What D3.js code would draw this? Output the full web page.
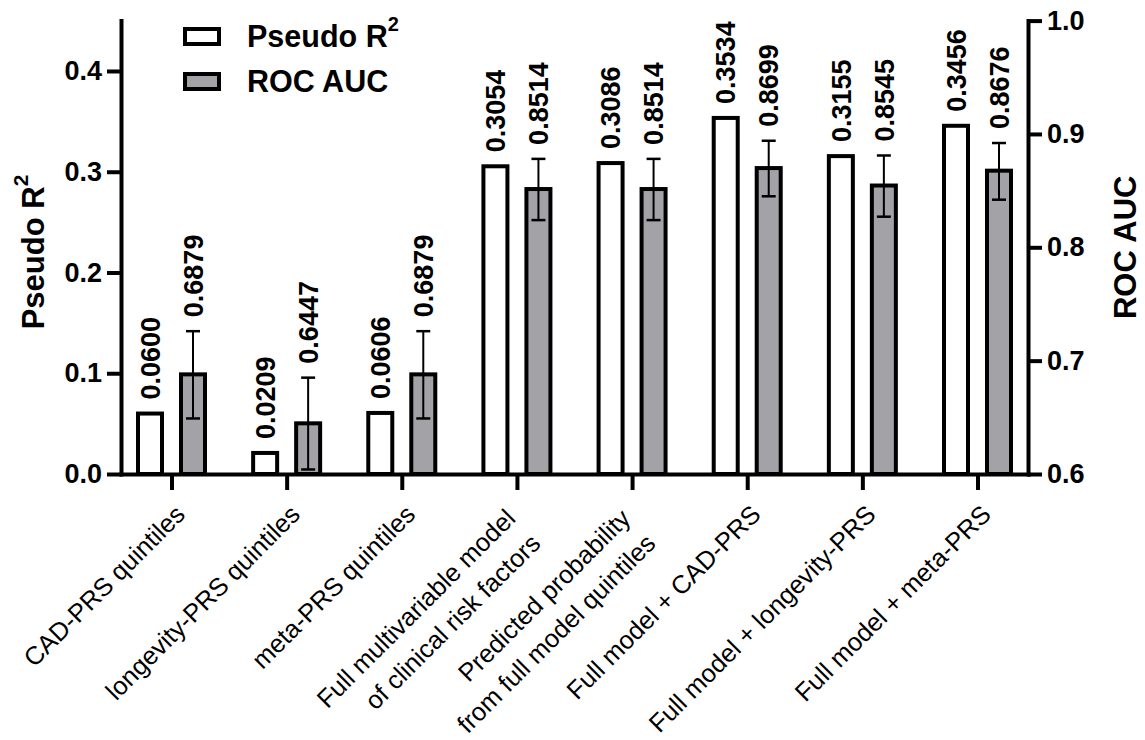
<!DOCTYPE html>
<html>
<head>
<meta charset="utf-8">
<script src="https://cdn.jsdelivr.net/npm/d3@7"></script>
<style>
  html, body { margin: 0; padding: 0; background: #fff; }
  svg { display: block; }
  text { font-family: "Liberation Sans", Arial, Helvetica, sans-serif; fill: #000; }
</style>
</head>
<body>
<svg id="chart" width="1145" height="740"></svg>
<script>
// ---------------- data ----------------
const categories = [
  "CAD-PRS quintiles",
  "longevity-PRS quintiles",
  "meta-PRS quintiles",
  "Full multivariable model of clinical risk factors",
  "Predicted probability from full model quintiles",
  "Full model + CAD-PRS",
  "Full model + longevity-PRS",
  "Full model + meta-PRS"
];
const categoryLines = [
  ["CAD-PRS quintiles"],
  ["longevity-PRS quintiles"],
  ["meta-PRS quintiles"],
  ["Full multivariable model", "of clinical risk factors"],
  ["Predicted probability", "from full model quintiles"],
  ["Full model + CAD-PRS"],
  ["Full model + longevity-PRS"],
  ["Full model + meta-PRS"]
];
const pseudoR2 = [0.0600, 0.0209, 0.0606, 0.3054, 0.3086, 0.3534, 0.3155, 0.3456];
const rocAUC   = [0.6879, 0.6447, 0.6879, 0.8514, 0.8514, 0.8699, 0.8545, 0.8676];
const rocLow   = [0.649, 0.604, 0.649, 0.824, 0.824, 0.845, 0.827, 0.842];
const rocHigh  = [0.726, 0.685, 0.726, 0.878, 0.878, 0.894, 0.881, 0.892];
const series = ["Pseudo R2", "ROC AUC"];
const leftTicks = [0.0, 0.1, 0.2, 0.3, 0.4];
const rightTicks = [0.6, 0.7, 0.8, 0.9, 1.0];

// ---------------- layout ----------------
const svg = d3.select("#chart");
const plotLeft = 121, plotRight = 1028, plotBottom = 474;
const leftDomain = [0, 0.45], rightDomain = [0.6, 1.0];
const plotTop = 20.6;
const GRAY = "#a3a2a7";
const FONT = '"Liberation Sans", Arial, Helvetica, sans-serif';

const x0 = d3.scalePoint().domain(categories).range([plotLeft, plotRight]).padding(0.4386);
const x1 = d3.scaleBand().domain(series).range([-43, 43]);
const yL = d3.scaleLinear().domain(leftDomain).range([plotBottom, plotTop]);
const yR = d3.scaleLinear().domain(rightDomain).range([plotBottom, plotTop]);
const barW = 24;

const rows = categories.map((c, i) => ({
  cat: c, r2: pseudoR2[i], auc: rocAUC[i], lo: rocLow[i], hi: rocHigh[i], lines: categoryLines[i]
}));

const bx = (d, s) => x0(d.cat) + x1(s) + x1.bandwidth() / 2;

// bars: pseudo R2 (white, left scale)
svg.append("g").selectAll("rect").data(rows).join("rect")
  .attr("x", d => bx(d, series[0]) - barW / 2)
  .attr("y", d => yL(d.r2))
  .attr("width", barW)
  .attr("height", d => yL(0) - yL(d.r2))
  .attr("fill", "#fff").attr("stroke", "#000").attr("stroke-width", 4);

// bars: ROC AUC (gray, right scale)
svg.append("g").selectAll("rect").data(rows).join("rect")
  .attr("x", d => bx(d, series[1]) - barW / 2)
  .attr("y", d => yR(d.auc))
  .attr("width", barW)
  .attr("height", d => yR(rightDomain[0]) - yR(d.auc))
  .attr("fill", GRAY).attr("stroke", "#000").attr("stroke-width", 4);

// error bars
const eg = svg.append("g").attr("stroke", "#000");
eg.selectAll("line.v").data(rows).join("line").attr("class", "v")
  .attr("x1", d => bx(d, series[1])).attr("x2", d => bx(d, series[1]))
  .attr("y1", d => yR(d.lo)).attr("y2", d => yR(d.hi)).attr("stroke-width", 2);
eg.selectAll("line.t").data(rows).join("line").attr("class", "t")
  .attr("x1", d => bx(d, series[1]) - 7).attr("x2", d => bx(d, series[1]) + 7)
  .attr("y1", d => yR(d.hi)).attr("y2", d => yR(d.hi)).attr("stroke-width", 2.5);
eg.selectAll("line.b").data(rows).join("line").attr("class", "b")
  .attr("x1", d => bx(d, series[1]) - 7).attr("x2", d => bx(d, series[1]) + 7)
  .attr("y1", d => yR(d.lo)).attr("y2", d => yR(d.lo)).attr("stroke-width", 2.5);

// value labels
const lblGap = 14;
const vl = svg.append("g").attr("font-size", 27).attr("font-weight", "bold");
vl.selectAll("text.r2").data(rows).join("text").attr("class", "r2")
  .attr("transform", d => `translate(${bx(d, series[0])},${yL(d.r2) - lblGap}) rotate(-90)`)
  .attr("dy", "0.36em").attr("text-anchor", "start")
  .text(d => d.r2.toFixed(4));
vl.selectAll("text.auc").data(rows).join("text").attr("class", "auc")
  .attr("transform", d => `translate(${bx(d, series[1])},${yR(d.hi) - lblGap}) rotate(-90)`)
  .attr("dy", "0.36em").attr("text-anchor", "start")
  .text(d => d.auc.toFixed(4));

// axes
function styleAxis(g, fs) {
  g.select(".domain").attr("stroke-width", 4).attr("stroke-linecap", "square");
  g.selectAll(".tick line").attr("stroke-width", 4);
  g.selectAll(".tick text").attr("font-size", fs).attr("font-weight", "bold")
    .attr("font-family", FONT).attr("fill", "#000");
}
const axL = svg.append("g").attr("transform", `translate(${plotLeft},0)`)
  .call(d3.axisLeft(yL).tickValues(leftTicks).tickFormat(d3.format(".1f"))
        .tickSize(14).tickSizeOuter(0).tickPadding(5));
styleAxis(axL, 27);
const axR = svg.append("g").attr("transform", `translate(${plotRight},0)`)
  .call(d3.axisRight(yR).tickValues(rightTicks).tickFormat(d3.format(".1f"))
        .tickSize(14).tickSizeOuter(0).tickPadding(5));
styleAxis(axR, 27);
const axB = svg.append("g").attr("transform", `translate(0,${plotBottom})`)
  .call(d3.axisBottom(x0).tickSize(16).tickSizeOuter(0).tickFormat(""));
styleAxis(axB, 1);

// category labels
const xl = svg.append("g").attr("font-size", 25.5);
rows.forEach(d => {
  const cx = x0(d.cat);
  if (d.lines.length === 1) {
    xl.append("text")
      .attr("transform", `translate(${cx + 15},${plotBottom + 42}) rotate(-45)`)
      .attr("text-anchor", "end").text(d.lines[0]);
  } else {
    d.lines.forEach((ln, k) => {
      xl.append("text")
        .attr("transform", `translate(${cx + 0 + k * 25},${plotBottom + 46 + k * 25}) rotate(-45)`)
        .attr("text-anchor", "end").text(ln);
    });
  }
});

// axis titles
const tL = svg.append("text").attr("font-size", 31).attr("font-weight", "bold")
  .attr("text-anchor", "middle")
  .attr("transform", `translate(44,252) rotate(-90)`);
tL.append("tspan").text("Pseudo R");
tL.append("tspan").attr("font-size", 21).attr("dy", "-0.75em").text("2");

svg.append("text").attr("font-size", 31).attr("font-weight", "bold")
  .attr("text-anchor", "middle")
  .attr("transform", `translate(1136,${(plotBottom + plotTop) / 2}) rotate(-90)`)
  .text("ROC AUC");

// legend
const lg = svg.append("g");
const legendItems = [
  { label: "Pseudo R", sup: "2", fill: "#fff", y: 29 },
  { label: "ROC AUC", sup: null, fill: GRAY, y: 74 }
];
legendItems.forEach(it => {
  lg.append("rect").attr("x", 185).attr("y", it.y).attr("width", 34).attr("height", 15)
    .attr("fill", it.fill).attr("stroke", "#000").attr("stroke-width", 4);
  const t = lg.append("text").attr("x", 247).attr("y", it.y + 7.5).attr("dy", "0.36em")
    .attr("font-size", 30.5).attr("font-weight", "bold");
  t.append("tspan").text(it.label);
  if (it.sup) t.append("tspan").attr("font-size", 20).attr("dy", "-0.8em").text(it.sup);
});
</script>
</body>
</html>
